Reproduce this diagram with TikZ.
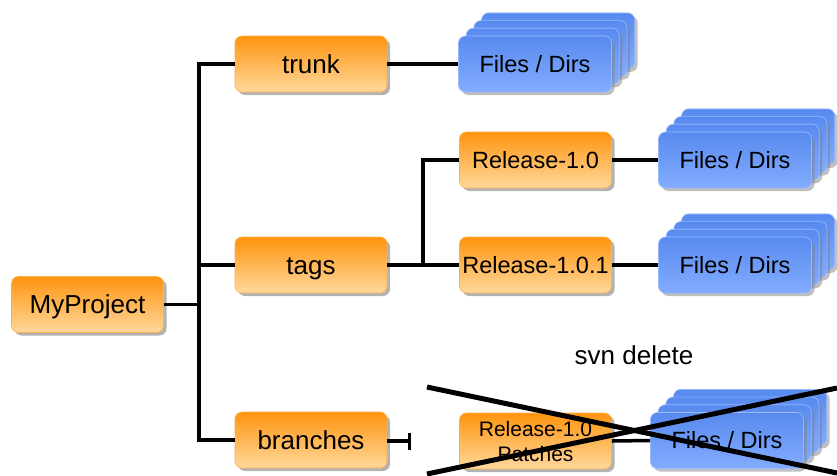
\documentclass[tikz,border=0pt]{standalone}
\usepackage{fontspec}
\setmainfont{Liberation Sans}
\usetikzlibrary{shadows,arrows.meta}
\definecolor{orgtop}{RGB}{255,148,14}
\definecolor{orgbot}{RGB}{255,216,156}
\definecolor{orgline}{RGB}{250,175,80}
\definecolor{blutop}{RGB}{88,138,238}
\definecolor{blubot}{RGB}{130,172,255}
\definecolor{bluline}{RGB}{150,185,255}
\tikzset{
  cardbase/.style={rectangle, rounded corners=7pt, minimum height=56pt, inner sep=0pt},
  orangebox/.style={cardbase, minimum width=152pt,
    top color=orgtop, bottom color=orgbot, draw=orgline, line width=0.6pt,
    drop shadow={shadow xshift=3pt, shadow yshift=-3pt, shadow scale=1, fill=black!50, opacity=0.6},
    font=\fontsize{26}{30}\selectfont, text height=18.6pt, text depth=0pt},
  releasebox/.style={orangebox, font=\fontsize{23.5}{28}\selectfont, text height=16.8pt},
  patchbox/.style={orangebox, align=center, font=\fontsize{21}{25}\selectfont,
    text height=, text depth=},
  filebox/.style={cardbase, minimum width=153pt,
    top color=blutop, bottom color=blubot, draw=bluline, line width=0.7pt,
    drop shadow={shadow xshift=3pt, shadow yshift=-3pt, shadow scale=1, fill=black!50, opacity=0.5},
    font=\fontsize{23.5}{28}\selectfont, text height=16.8pt, text depth=0pt},
  link/.style={line width=3.5pt, black},
  crossline/.style={line width=5pt, black},
  note/.style={font=\fontsize{26}{30}\selectfont}
}
% a stack of four "Files / Dirs" cards, front card named #1
\newcommand\filestack[3]{%
  \foreach \k in {3,2,1}{\node[filebox] (#1-\k) at (#2+7.7*\k,#3-7.7*\k) {};}
  \node[filebox] (#1) at (#2,#3) {Files / Dirs};
}
\begin{document}
\begin{tikzpicture}[x=1pt,y=-1pt]
\useasboundingbox (0,0) rectangle (837,475);
\clip (0,0) rectangle (837,475);

% junction points
\coordinate (jx) at (199,304.5);
\coordinate (jt) at (423,265);
\coordinate (tend) at (411,441);

% boxes
\node[orangebox] (my) at (87.5,304.5) {MyProject};
\node[orangebox] (trunk) at (311,64) {trunk};
\node[orangebox] (tags) at (311,265) {tags};
\node[orangebox] (branches) at (311,440) {branches};
\node[releasebox] (r10) at (535.5,160) {Release-1.0};
\node[releasebox] (r101) at (535.5,265) {Release-1.0.1};
\node[patchbox] (patch) at (535.5,441) {Release-1.0\\Patches};

\filestack{s1}{535}{64}
\filestack{s2}{735}{160}
\filestack{s3}{735}{265}
\filestack{s4}{727}{440.5}

% connectors
\draw[link] (my.east) -- (jx);
\draw[link] (trunk.west) -| (jx) |- (branches.west);
\draw[link] (jx |- tags.west) -- (tags.west);
\draw[link] (trunk.east) -- (s1.west);
\draw[link] (tags.east) -- (r101.west);
\draw[link] (jt) |- (r10.west);
\draw[link] (r10.east) -- (s2.west);
\draw[link] (r101.east) -- (s3.west);
\draw[link, -{Bar[width=17pt, line width=3.5pt]}] (branches.east |- tend) -- (tend);
\draw[link] (patch.east) -- (s4.west);

\node[note] (del) at (634,355) {svn delete};

% deletion cross
\coordinate (xa) at (427,387);
\coordinate (xb) at (837,473);
\coordinate (xc) at (427,474);
\coordinate (xd) at (837,388);
\draw[crossline] (xa) -- (xb);
\draw[crossline] (xc) -- (xd);
\end{tikzpicture}
\end{document}
